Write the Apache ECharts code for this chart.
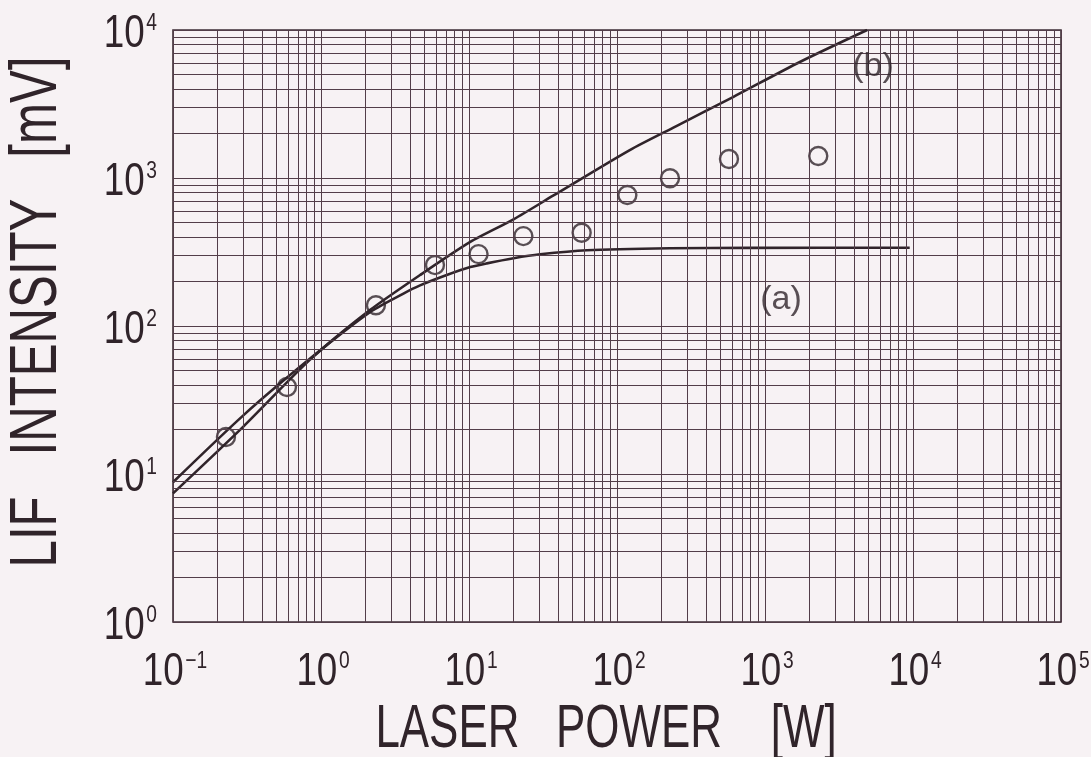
<!DOCTYPE html>
<html><head><meta charset="utf-8">
<script src="https://cdn.jsdelivr.net/npm/echarts@6/dist/echarts.min.js"></script>
<style>html,body{margin:0;padding:0;background:#f7f2f4;} #c{width:1091px;height:757px;}</style>
</head><body><div id="c"></div>
<script>
// ---- axis decades and tick labels ----
const xDecades = [0.1, 1, 10, 100, 1000, 10000, 100000];
const xTickExp = ['−1', '0', '1', '2', '3', '4', '5'];
const yDecades = [1, 10, 100, 1000, 10000];
const yTickExp = ['0', '1', '2', '3', '4'];
const minorSteps = [2, 3, 4, 5, 6, 7, 8, 9];

// ---- measured points (open circles) ----
const measuredPower = [0.228, 0.589, 2.35, 5.89, 11.6, 23.3, 57.7, 117.5, 228, 571, 2290];
const measuredLIF   = [17.8, 38.7, 138, 258, 306, 405, 427, 768, 995, 1344, 1408];

// ---- curve (a) ----
const curveAPower = [0.1, 0.3, 0.84, 2.14, 3.58, 4.67, 7, 10.2, 13.2, 20, 30.2, 62.7, 228, 793, 9500];
const curveALIF   = [8.8, 25, 60, 124, 165, 188, 220, 250, 265, 287, 305, 325, 335, 337, 338];

// ---- curve (b) ----
const curveBPower = [0.1, 0.3, 0.84, 2.14, 4.67, 10.2, 20, 37, 122, 250, 608, 1720, 4900];
const curveBLIF   = [7.4, 21, 59, 128, 221, 370, 526, 759, 1545, 2235, 3524, 6080, 10000];

// ---- annotations ----
const annotPower = [1282, 5370];
const annotLIF   = [150, 5620];
const annotText  = ['(a)', '(b)'];

// ---- axis titles ----
const xTitle = 'LASER   POWER    [W]';
const yTitle = 'LIF   INTENSITY   [mV]';

const ink = '#30242a';
const gridInk = '#533e49';
const sans = "'Liberation Sans', Arial, Helvetica, sans-serif";

const minorX = [], minorY = [];
xDecades.slice(0, -1).forEach(d => minorSteps.forEach(k => minorX.push({ xAxis: d * k })));
yDecades.slice(0, -1).forEach(d => minorSteps.forEach(k => minorY.push({ yAxis: d * k })));

const chart = echarts.init(document.getElementById('c'), null, { renderer: 'canvas' });
chart.setOption({
  backgroundColor: '#f7f2f4',
  animation: false,
  grid: { left: 173, right: 30, top: 30, bottom: 135, show: true, borderColor: '#3e2e36', borderWidth: 1.6, backgroundColor: 'transparent' },
  xAxis: {
    type: 'log', logBase: 10, min: 0.1, max: 100000,
    axisLine: { show: false }, axisTick: { show: false },
    splitLine: { show: true, lineStyle: { color: gridInk, width: 1 } },
    axisLabel: { show: false }
  },
  yAxis: {
    type: 'log', logBase: 10, min: 1, max: 10000,
    axisLine: { show: false }, axisTick: { show: false },
    splitLine: { show: true, lineStyle: { color: gridInk, width: 1 } },
    axisLabel: { show: false }
  },
  series: [
    {
      type: 'line', data: [[0.1, 1]], showSymbol: false, lineStyle: { opacity: 0 }, z: 1, silent: true,
      markLine: { silent: true, symbol: ['none', 'none'], label: { show: false }, animation: false,
        lineStyle: { color: gridInk, width: 1, type: 'solid' }, data: minorX.concat(minorY) }
    },
    {
      name: 'a', type: 'line', z: 3, smooth: 0.25, showSymbol: false,
      data: curveAPower.map((x, i) => [x, curveALIF[i]]),
      lineStyle: { color: ink, width: 2.6 }
    },
    {
      name: 'b', type: 'line', z: 3, smooth: 0.25, showSymbol: false,
      data: curveBPower.map((x, i) => [x, curveBLIF[i]]),
      lineStyle: { color: ink, width: 2.6 }
    },
    {
      type: 'scatter', z: 4, symbol: 'circle', symbolSize: 18,
      data: measuredPower.map((x, i) => [x, measuredLIF[i]]),
      itemStyle: { color: 'rgba(0,0,0,0)', borderColor: ink, borderWidth: 2.4 }
    },
    {
      type: 'scatter', z: 5, symbolSize: 0,
      data: annotPower.map((x, i) => ({ value: [x, annotLIF[i]], name: annotText[i] })),
      label: { show: true, position: 'inside', formatter: p => p.name, fontSize: 34, fontFamily: sans, color: ink }
    }
  ]
});

// ---- tick labels and titles placed through the chart's own scales ----
const richTick = {
  b: { fontSize: 46, lineHeight: 46, fontFamily: sans, fill: ink },
  s: { fontSize: 24, lineHeight: 24, verticalAlign: 'top', fontFamily: sans, fill: ink, padding: [0, 0, 0, 2] }
};
const graphics = [];
xDecades.forEach((v, i) => {
  const p = chart.convertToPixel({ xAxisIndex: 0, yAxisIndex: 0 }, [v, yDecades[0]]);
  graphics.push({ type: 'text', x: p[0] + 2, y: p[1] + 50, scaleX: 0.8, silent: true,
    style: { text: '{b|10}{s|' + xTickExp[i] + '}', rich: richTick, textAlign: 'center', textVerticalAlign: 'middle' } });
});
yDecades.forEach((v, i) => {
  const p = chart.convertToPixel({ xAxisIndex: 0, yAxisIndex: 0 }, [xDecades[0], v]);
  graphics.push({ type: 'text', x: p[0] - 16, y: p[1] + 4, scaleX: 0.8, silent: true,
    style: { text: '{b|10}{s|' + yTickExp[i] + '}', rich: richTick, textAlign: 'right', textVerticalAlign: 'middle' } });
});
graphics.push({ type: 'text', x: 606, y: 730, scaleX: 0.72, silent: true,
  style: { text: xTitle, font: '61px ' + sans, fill: ink, textAlign: 'center', textVerticalAlign: 'middle' } });
graphics.push({ type: 'text', x: 38, y: 312, rotation: Math.PI / 2, scaleX: 0.745, silent: true,
  style: { text: yTitle, font: '66px ' + sans, fill: ink, textAlign: 'center', textVerticalAlign: 'middle' } });
chart.setOption({ graphic: graphics });
</script>
</body></html>
